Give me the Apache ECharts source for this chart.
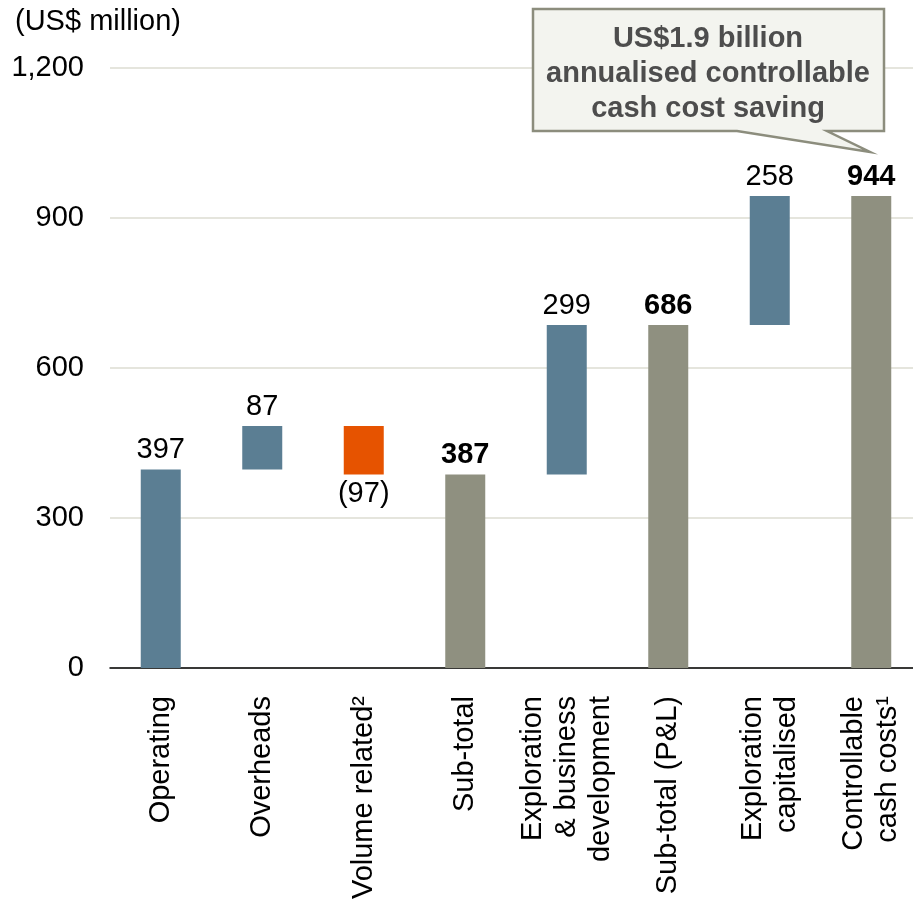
<!DOCTYPE html>
<html>
<head>
<meta charset="utf-8">
<script src="https://cdn.jsdelivr.net/npm/echarts@6/dist/echarts.min.js"></script>
<style>
  html, body { margin: 0; padding: 0; background: #ffffff; }
  #chart { width: 913px; height: 900px; }
</style>
</head>
<body>
<div id="chart"></div>
<script>
const categories = ['Operating', 'Overheads', 'Volume related²', 'Sub-total',
  'Exploration\n& business\ndevelopment', 'Sub-total (P&L)',
  'Exploration\ncapitalised', 'Controllable\ncash costs¹'];
const values = [397, 87, -97, 387, 299, 686, 258, 944];
const kinds = ['delta', 'delta', 'delta', 'total', 'delta', 'total', 'delta', 'total'];
const yTicks = { min: 0, max: 1200, interval: 300 };
const calloutLines = ['US$1.9 billion', 'annualised controllable', 'cash cost saving'];

const COLORS = { up: '#5b7e93', down: '#e65300', total: '#8f9080' };
const FONT = "'Liberation Sans', Arial, sans-serif";
const FS = 29;

// Build waterfall series from the values
let running = 0;
const baseData = [];
const barData = [];
values.forEach(function (v, i) {
  let base, h, color;
  if (kinds[i] === 'total') {
    base = 0; h = v; color = COLORS.total; running = v;
  } else if (v >= 0) {
    base = running; h = v; color = COLORS.up; running += v;
  } else {
    base = running + v; h = -v; color = COLORS.down; running += v;
  }
  baseData.push(base);
  barData.push({
    value: h,
    itemStyle: { color: color },
    label: {
      show: true,
      position: v < 0 ? 'bottom' : 'top',
      distance: 5,
      formatter: v < 0 ? '(' + Math.abs(v) + ')' : String(v),
      fontWeight: kinds[i] === 'total' ? 'bold' : 'normal',
      fontSize: FS,
      fontFamily: FONT,
      color: '#000000'
    }
  });
});

const chart = echarts.init(document.getElementById('chart'), null, { renderer: 'canvas' });
chart.setOption({
  animation: false,
  backgroundColor: '#ffffff',
  title: {
    text: '(US$ million)',
    left: 10, top: 2,
    textStyle: { fontSize: FS, fontWeight: 'normal', color: '#000000', fontFamily: FONT }
  },
  grid: { left: 110, width: 812, top: 68, bottom: 232, containLabel: false, outerBoundsMode: 'none' },
  xAxis: {
    type: 'category',
    data: categories,
    axisLine: { lineStyle: { color: '#000000', width: 1.5 } },
    axisTick: { show: false },
    axisLabel: {
      rotate: 90,
      interval: 0,
      margin: 28,
      fontSize: FS,
      lineHeight: 34,
      color: '#000000',
      fontFamily: FONT
    }
  },
  yAxis: {
    type: 'value',
    min: yTicks.min, max: yTicks.max, interval: yTicks.interval,
    axisLine: { show: false },
    axisTick: { show: false },
    splitLine: { lineStyle: { color: '#dcdcd2', width: 1.5 } },
    axisLabel: {
      margin: 26,
      fontSize: FS,
      color: '#000000',
      fontFamily: FONT,
      formatter: function (v) { return v.toLocaleString('en-US'); }
    }
  },
  series: [
    {
      type: 'bar', stack: 'wf', data: baseData, barWidth: 40,
      itemStyle: { color: 'transparent' }, silent: true
    },
    {
      type: 'bar', stack: 'wf', data: barData, barWidth: 40
    }
  ],
  graphic: [
    {
      type: 'polygon',
      shape: { points: [[533, 9], [884, 9], [884, 131], [827, 131], [870, 152], [737, 131], [533, 131]] },
      style: { fill: '#f3f4ef', stroke: '#8c8d7d', lineWidth: 2.5 },
      z: 100
    },
    {
      type: 'text',
      x: 708, y: 74,
      style: {
        text: calloutLines.join('\n'),
        fontSize: FS, fontWeight: 'bold', fontFamily: FONT,
        lineHeight: 35,
        fill: '#4d4d4d',
        align: 'center', verticalAlign: 'middle'
      },
      z: 101
    }
  ]
});
</script>
</body>
</html>
